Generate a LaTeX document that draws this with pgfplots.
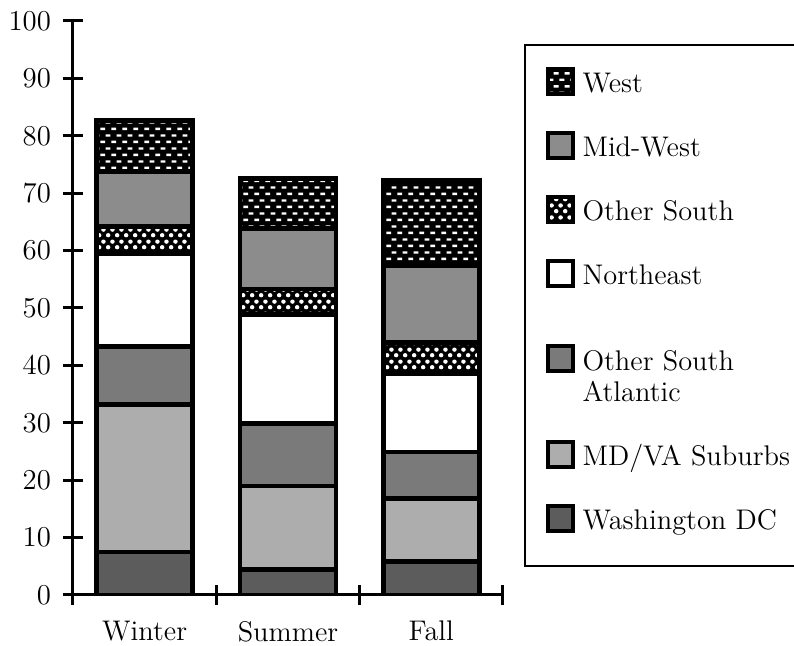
\documentclass[border=0pt]{standalone}
\usepackage{pgfplots}
\pgfplotsset{compat=1.18}
\usepackage{pgfplotstable}
\usetikzlibrary{patterns}

% white dashes on black (West)
\pgfdeclarepatternformonly{westdash}{\pgfqpoint{0pt}{0pt}}{\pgfqpoint{5.6pt}{6.4pt}}{\pgfqpoint{5.6pt}{6.4pt}}{%
  \pgfpathrectangle{\pgfqpoint{0.2pt}{1pt}}{\pgfqpoint{2.6pt}{1.2pt}}%
  \pgfpathrectangle{\pgfqpoint{3.0pt}{4.2pt}}{\pgfqpoint{2.6pt}{1.2pt}}%
  \pgfusepath{fill}}
% white round dots on black (Other South)
\pgfdeclarepatternformonly{southdots}{\pgfqpoint{0pt}{0pt}}{\pgfqpoint{4.4pt}{6pt}}{\pgfqpoint{4.4pt}{6pt}}{%
  \pgfpathcircle{\pgfqpoint{1.1pt}{1.5pt}}{1.15pt}%
  \pgfpathcircle{\pgfqpoint{3.3pt}{4.5pt}}{1.15pt}%
  \pgfusepath{fill}}

\newcommand\chartfont{\fontsize{14.2}{15.5}\selectfont}
\tikzset{legup/.initial=0pt}

% share of each region, per season
\pgfplotstableread{
x dc mdva osa ne os mw w
1 7.5 25.7 10.1 16.2 4.7 9.6 8.8
2 4.5 14.5 10.9 19.0 4.4 10.5 8.8
3 5.8 11.0 8.1 13.7 5.4 13.4 14.8
}\seasons

\begin{document}
\begin{tikzpicture}
\begin{axis}[
  at={(0pt,0pt)}, anchor=south west,
  scale only axis, width=215pt, height=287pt,
  xmin=0.5, xmax=3.5, ymin=0, ymax=100,
  axis x line=bottom, axis y line=left,
  axis line style={-, line width=1.5pt},
  ybar stacked, bar width=0.67,
  ytick={0,10,...,100},
  xtick={0.5,1.5,2.5,3.5}, xticklabels={},
  extra x ticks={1,2,3}, extra x tick labels={Winter,Summer,Fall},
  extra x tick style={major tick length=0pt},
  tick align=center, major tick length=10pt,
  tick style={line width=1.5pt, black},
  tick label style={font=\chartfont},
  yticklabel style={xshift=-2.5pt},
  xticklabel style={yshift=-9.5pt},
  every axis plot post/.append style={
    draw=black, line width=2.4pt,
    legend image code/.code={\draw[##1, line width=2pt]
      (0pt,{\pgfkeysvalueof{/tikz/legup}-5pt}) rectangle (12.5pt,{\pgfkeysvalueof{/tikz/legup}+7.5pt});}
  },
  reverse legend,
  legend cell align=left,
  legend style={at={(1.098,0.92)}, anchor=north west, draw=none, fill=none,
    inner sep=0pt, row sep=17.5pt, column sep=4pt, font=\chartfont,
    nodes={inner sep=0pt, align=left}},
]
\addplot[fill=black!64] table[x=x, y=dc] {\seasons};
\addlegendentry{Washington DC}
\addplot[fill=black!32] table[x=x, y=mdva] {\seasons};
\addlegendentry{MD/VA Suburbs}
\addplot[fill=black!52, legup=1.5pt] table[x=x, y=osa] {\seasons};
\addlegendentry{\rule{0pt}{23.7pt}Other South\\Atlantic}
\addplot[fill=white] table[x=x, y=ne] {\seasons};
\addlegendentry{Northeast}
\addplot[fill=black, postaction={pattern=southdots, pattern color=white}] table[x=x, y=os] {\seasons};
\addlegendentry{Other South}
\addplot[fill=black!45] table[x=x, y=mw] {\seasons};
\addlegendentry{Mid-West}
\addplot[fill=black, postaction={pattern=westdash, pattern color=white}] table[x=x, y=w] {\seasons};
\addlegendentry{West}
\end{axis}
\draw[line width=1.2pt] (362pt,275pt) -- (226pt,275pt) -- (226pt,14.5pt) -- (362pt,14.5pt);
\pgfresetboundingbox
\path[use as bounding box] (-36.5pt,-25.5pt) rectangle (360.5pt,297.5pt);
\end{tikzpicture}
\end{document}
